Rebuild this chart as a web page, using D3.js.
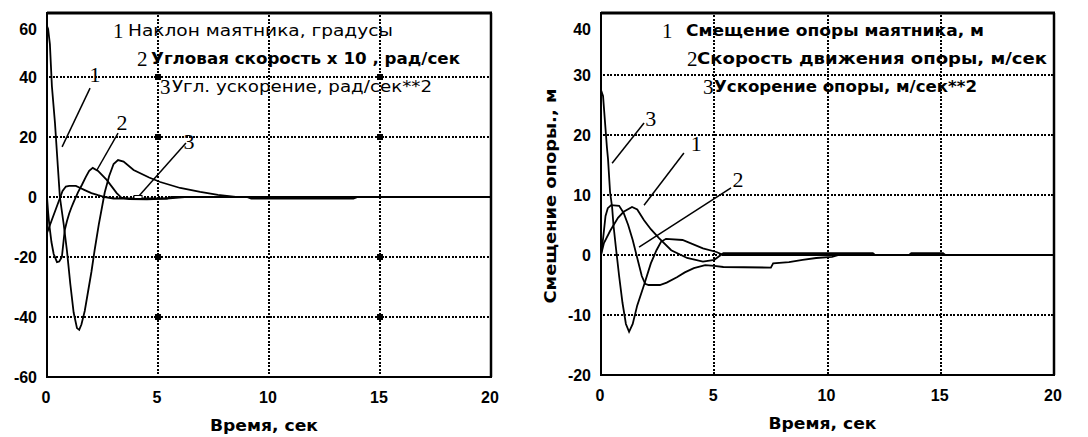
<!DOCTYPE html>
<html><head><meta charset="utf-8">
<script src="https://cdn.jsdelivr.net/npm/d3@7"></script>
<style>
html,body{margin:0;padding:0;background:#fff;}
svg{display:block;}
</style></head>
<body>
<svg id="c" width="1088" height="437"></svg>
<script>
// ---------- DATA ----------
const xTicks = [0, 5, 10, 15, 20];
const leftYTicks = [-60, -40, -20, 0, 20, 40, 60];
const rightYTicks = [-20, -10, 0, 10, 20, 30, 40];
const leftGridX = [5, 10, 15];
const leftGridY = [-40, -20, 0, 20, 40];
const rightGridX = [5, 10, 15];
const rightGridY = [-10, 0, 10, 20, 30];
const leftGridMarks = [[5, 40], [15, 40], [5, 20], [15, 20], [5, -20], [15, -20], [5, -40], [15, -40]];

// Left: pendulum tilt (deg)
const tiltT = [0, 0.05, 0.13, 0.22, 0.36, 0.49, 0.58, 0.75, 0.9, 1.05, 1.2, 1.35, 1.45, 1.55, 1.7, 1.85, 2.0, 2.15, 2.33, 2.5, 2.6, 2.8, 3.0, 3.2, 3.45, 3.9, 4.6, 5.1, 6.0, 6.9, 7.7, 8.5, 20];
const tiltV = [57, 56, 51, 37, 24.6, 10, 0, -9, -18, -29, -38.5, -43.7, -44.3, -42.5, -38, -31.5, -25, -17.5, -9.3, -2.5, 1.5, 7, 11, 12.3, 11.8, 9, 6.5, 5, 3, 1.7, 0.7, 0, 0];
// Left: angular velocity x10
const angVelT = [0, 0.05, 0.1, 0.2, 0.3, 0.45, 0.55, 0.67, 0.8, 0.9, 1.0, 1.1, 1.2, 1.3, 1.4, 1.57, 1.75, 1.9, 2.06, 2.3, 2.69, 3.14, 3.35, 3.7, 4.5, 5.4, 6.2, 9, 9.2, 13.8, 14, 20];
const angVelV = [0, -5, -9, -15, -19, -21.7, -21.5, -20, -11, -8, -5.5, -3.5, -1.7, 0, 1.6, 4, 6.7, 8.7, 9.7, 8.7, 5.7, 1.3, -0.2, -0.7, -0.8, -0.5, 0, 0, -0.5, -0.5, 0, 0];
// Left: angular acceleration
const angAccT = [0, 0.2, 0.4, 0.6, 0.7, 0.85, 1.0, 1.3, 1.5, 1.7, 2.0, 2.3, 2.6, 3.0, 5.4, 5.6, 20];
const angAccV = [-12, -8, -4, 0, 2, 3.5, 3.7, 3.7, 3.0, 2.3, 1.3, 0.6, 0, -0.5, -0.5, 0, 0];

// Right: support displacement
const dispT = [0, 0.13, 0.4, 0.75, 1.0, 1.37, 1.6, 1.9, 2.2, 2.56, 3.1, 3.8, 4.5, 5.0, 5.4, 12, 12.1, 13.6, 13.7, 15.1, 15.2, 20];
const dispV = [0, 2, 4, 6.2, 7.2, 8, 7.6, 5.8, 4.3, 2.8, 0.8, -0.5, -1.1, -0.8, 0.3, 0.3, 0, 0, 0.3, 0.3, 0, 0];
// Right: support speed
const speedT = [0, 0.1, 0.2, 0.3, 0.45, 0.8, 1.0, 1.2, 1.4, 1.6, 1.8, 1.95, 2.1, 2.6, 2.9, 3.35, 3.7, 4.1, 4.6, 5.0, 5.4, 7.5, 7.6, 8.3, 8.9, 9.5, 10.2, 10.5, 20];
const speedV = [0, 3, 6.5, 7.8, 8.3, 8.2, 7, 5, 2.5, -0.5, -3.5, -4.8, -5, -5, -4.6, -3.7, -2.9, -2.2, -1.7, -1.8, -2, -2.1, -1.4, -1.2, -0.8, -0.5, -0.3, 0, 0];
// Right: support acceleration
const accelT = [0, 0.09, 0.18, 0.26, 0.31, 0.4, 0.49, 0.55, 0.65, 0.8, 0.95, 1.1, 1.24, 1.4, 1.6, 1.9, 2.2, 2.45, 2.65, 2.87, 3.6, 4.5, 5.1, 5.4, 20];
const accelV = [27.5, 26.5, 22, 18, 16, 10.5, 8, 5, 1.5, -3.5, -8, -11.5, -12.8, -11.5, -8.4, -5, -1.4, 0.8, 2.2, 2.7, 2.5, 1.1, 0.5, 0, 0];

const leftLegend = ["Наклон маятника, градусы", "Угловая скорость х 10 , рад/сек", "Угл. ускорение, рад/сек**2"];
const rightLegend = ["Смещение опоры маятника, м", "Скорость движения опоры, м/сек", "Ускорение опоры, м/сек**2"];
const xTitle = "Время, сек";
const rightYTitle = "Смещение опоры., м";

// leader annotations in data units: [label, labelT, labelV, fromT, fromV, toT, toV]
const leftLeaders = [["1", 2.16, 38.5, 1.94, 36.3, 0.68, 16.7], ["2", 3.38, 22.5, 3.2, 21.3, 2.25, 9], ["3", 6.4, 16, 6.26, 18, 4.1, 0]];
const rightLeaders = [["3", 2.2, 21.5, 1.9, 22, 0.49, 15.3], ["1", 4.2, 17.3, 3.66, 17, 1.9, 8.3], ["2", 6.05, 11.3, 5.74, 11.2, 1.68, 1.3]];

// ---------- DRAW ----------
const svg = d3.select("#c");
const DOT_STEP = 3.5, DOT = 2;

function panel(cfg) {
  const x = d3.scaleLinear().domain([0, 20]).range(cfg.xr);
  const y = d3.scaleLinear().domain(cfg.yd).range(cfg.yr);
  const g = svg.append("g");
  const x0 = cfg.xr[0], x1 = cfg.xr[1], yb = cfg.yr[0], yt = cfg.frameTop;
  const clipId = "clip" + cfg.id;
  svg.append("clipPath").attr("id", clipId).append("rect")
    .attr("x", x0).attr("y", yt).attr("width", x1 - x0).attr("height", yb - yt);

  // dotted grid drawn as small square dots
  const gridG = g.append("g").attr("fill", "#000").attr("shape-rendering", "crispEdges");
  cfg.gridX.forEach(d => {
    const cx = Math.round(x(d)) - 1;
    gridG.selectAll(null).data(d3.range(yt + 2, yb - 1, DOT_STEP)).enter().append("rect")
      .attr("x", cx).attr("y", v => Math.round(v)).attr("width", DOT).attr("height", DOT);
  });
  cfg.gridY.forEach(d => {
    const cy = Math.round(y(d)) - 1;
    gridG.selectAll(null).data(d3.range(x0 + 2, x1 - 1, DOT_STEP)).enter().append("rect")
      .attr("x", v => Math.round(v)).attr("y", cy).attr("width", DOT).attr("height", DOT);
  });
  g.selectAll(null).data(cfg.marks || []).enter().append("rect")
    .attr("x", d => Math.round(x(d[0])) - 3).attr("y", d => Math.round(y(d[1])) - 3)
    .attr("width", 6).attr("height", 6).attr("fill", "#000");

  // curves
  const line = d3.line().x(d => x(d[0])).y(d => y(d[1])).curve(d3.curveLinear);
  cfg.series.forEach(s => {
    const pts = s[0].map((t, i) => [t, s[1][i]]);
    g.append("path").attr("d", line(pts)).attr("fill", "none")
      .attr("stroke", "#000").attr("stroke-width", 1.8).attr("stroke-linejoin", "miter")
      .attr("clip-path", `url(#${clipId})`);
  });

  // frame
  g.append("rect").attr("x", x0).attr("y", yt).attr("width", x1 - x0).attr("height", yb - yt)
    .attr("fill", "none").attr("stroke", "#000").attr("stroke-width", 2);
  g.append("line").attr("x1", x0).attr("x2", x1 + 1).attr("y1", yt).attr("y2", yt)
    .attr("stroke", "#000").attr("stroke-width", 3);
  g.append("line").attr("x1", x1).attr("x2", x1).attr("y1", yt).attr("y2", yb)
    .attr("stroke", "#000").attr("stroke-width", 2.5);

  // x tick labels
  g.selectAll(null).data(xTicks).enter().append("text")
    .attr("x", d => x(d) - 1).attr("y", yb + 26).attr("text-anchor", "middle")
    .attr("font-family", "Liberation Sans, Arial, sans-serif").attr("font-weight", "bold")
    .attr("font-size", 16).text(d => d);
  // y tick labels
  g.selectAll(null).data(cfg.yTicks).enter().append("text")
    .attr("x", x0 - 10).attr("y", d => Math.max(y(d), yt + 16) + 6).attr("text-anchor", "end")
    .attr("font-family", "Liberation Sans, Arial, sans-serif").attr("font-weight", "bold")
    .attr("font-size", 16).text(d => d);

  // x title
  g.append("text").attr("x", (x0 + x1) / 2 - 5).attr("y", yb + 54).attr("text-anchor", "middle")
    .attr("font-family", "DejaVu Sans, sans-serif").attr("font-weight", "bold").attr("font-size", 16)
    .attr("textLength", 108).attr("lengthAdjust", "spacingAndGlyphs").text(xTitle);

  // legend
  cfg.legend.forEach((txt, i) => {
    const Lp = cfg.legendPos[i];
    g.append("text").attr("x", Lp.nx).attr("y", Lp.by + 2)
      .attr("font-family", "Liberation Serif, Times New Roman, serif").attr("font-size", 21).text(String(i + 1));
    g.append("text").attr("x", Lp.tx).attr("y", Lp.by)
      .attr("font-family", "DejaVu Sans, sans-serif").attr("font-weight", Lp.bold ? "bold" : "normal")
      .attr("font-size", 16).attr("textLength", Lp.w).attr("lengthAdjust", "spacingAndGlyphs").text(txt);
  });

  // leaders
  cfg.leaders.forEach(a => {
    g.append("line").attr("x1", x(a[3])).attr("y1", y(a[4])).attr("x2", x(a[5])).attr("y2", y(a[6]))
      .attr("stroke", "#000").attr("stroke-width", 1.5);
    g.append("text").attr("x", x(a[1])).attr("y", y(a[2])).attr("text-anchor", "middle")
      .attr("font-family", "Liberation Serif, Times New Roman, serif").attr("font-size", 22).text(a[0]);
  });
  return {x, y, g};
}

const L = panel({
  id: "L", xr: [47, 491], yd: [-60, 60], yr: [377, 17], frameTop: 13,
  gridX: leftGridX, gridY: leftGridY, marks: leftGridMarks, yTicks: leftYTicks,
  series: [[tiltT, tiltV], [angVelT, angVelV], [angAccT, angAccV]],
  legend: leftLegend,
  legendPos: [{nx: 113, tx: 128, by: 36, w: 265, bold: false},
              {nx: 137, tx: 151, by: 64, w: 309, bold: true},
              {nx: 160, tx: 172, by: 92, w: 260, bold: false}],
  leaders: leftLeaders
});
// small pointer box at end of leader 3 (left)
L.g.append("rect").attr("x", L.x(4.1) - 4).attr("y", L.y(0) - 1.5).attr("width", 8).attr("height", 3)
  .attr("fill", "#fff").attr("stroke", "#000").attr("stroke-width", 1);

const R = panel({
  id: "R", xr: [601, 1054], yd: [-20, 40], yr: [375, 15], frameTop: 13,
  gridX: rightGridX, gridY: rightGridY, marks: [], yTicks: rightYTicks,
  series: [[dispT, dispV], [speedT, speedV], [accelT, accelV]],
  legend: rightLegend,
  legendPos: [{nx: 662, tx: 686, by: 36, w: 298, bold: true},
              {nx: 687, tx: 697, by: 64, w: 350, bold: true},
              {nx: 703, tx: 714, by: 92, w: 263, bold: true}],
  leaders: rightLeaders
});
// rotated y title (right panel)
svg.append("text").attr("transform", "translate(556,196) rotate(-90)").attr("text-anchor", "middle")
  .attr("font-family", "DejaVu Sans, sans-serif").attr("font-weight", "bold").attr("font-size", 15)
  .attr("textLength", 215).attr("lengthAdjust", "spacingAndGlyphs").text(rightYTitle);
</script>
</body></html>
